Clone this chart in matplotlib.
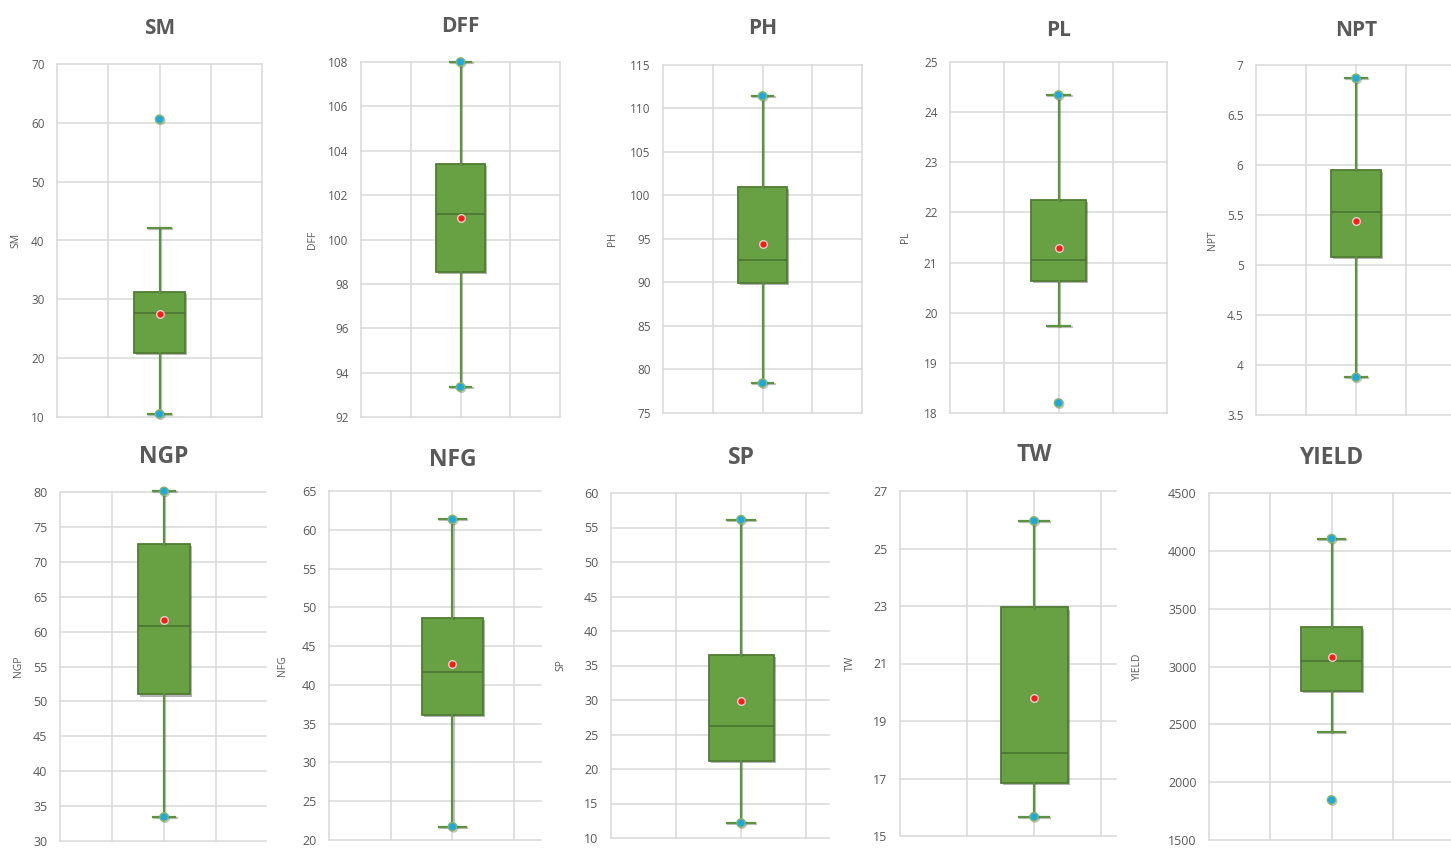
import matplotlib
matplotlib.use('Agg')
import matplotlib.pyplot as plt
import matplotlib.patheffects as pe
import matplotlib.transforms as mtransforms
from matplotlib.ticker import FuncFormatter
import numpy as np

plt.rcParams['font.family'] = ['Open Sans', 'DejaVu Sans']

# Box plot summaries
names = ['SM', 'DFF', 'PH', 'PL', 'NPT', 'NGP', 'NFG', 'SP', 'TW', 'YIELD']
q1 = [20.9, 98.54, 89.9, 20.64, 5.083, 51.0, 36.07, 21.2, 16.86, 2791]
median = [27.6, 101.16, 92.6, 21.05, 5.533, 60.75, 41.66, 26.18, 17.88, 3047]
q3 = [31.2, 103.4, 100.95, 22.25, 5.95, 72.5, 48.58, 36.5, 22.95, 3339]
mean = [27.5, 100.98, 94.4, 21.30, 5.437, 61.66, 42.73, 29.9, 19.81, 3081]
whisker_lo = [10.5, 93.35, 78.44, 19.74, 3.877, 33.44, 21.72, 12.17, 15.67, 2437]
whisker_hi = [42.2, 108.0, 111.44, 24.34, 6.867, 80.1, 61.34, 56.14, 25.96, 4106]
point_max = [60.6, 108.0, 111.44, 24.34, 6.867, 80.1, 61.34, 56.14, 25.96, 4106]
point_min = [10.5, 93.35, 78.44, 18.2, 3.877, 33.44, 21.72, 12.17, 15.67, 1846]

# y axis ranges (min, max, step)
y_min = [10, 92, 75, 18, 3.5, 30, 20, 10, 15, 1500]
y_max = [70, 108, 115, 25, 7, 80, 65, 60, 27, 4500]
y_step = [10, 2, 5, 1, 0.5, 5, 5, 5, 2, 500]

# panel layout in pixels: left, top, bottom, column width, visible columns, ylabel x, title y
layout = [
    (57, 64, 417, 51.25, 4.0, 16, 29),
    (361, 62, 417, 49.75, 4.0, 312, 27),
    (663, 65, 413, 49.75, 4.0, 613, 29),
    (950, 62, 413, 54.25, 4.0, 905, 31),
    (1256, 65, 415, 50.0, 4.0, 1212, 30),
    (60, 492, 841, 52.0, 3.96, 18, 457),
    (329, 491, 840, 61.7, 3.44, 282, 460),
    (611, 493, 838, 65.0, 3.35, 561, 458),
    (900, 491, 836, 67.0, 3.23, 850, 455),
    (1209, 493, 840, 61.25, 4.0, 1137, 458),
]

W, H = 1451, 848
fig = plt.figure(figsize=(W / 100, H / 100), dpi=100)

text_col = '#595959'
grid_col = '#d9d9d9'
box_fill = '#68a044'
box_edge = '#4f7d31'
line_col = '#5e9240'

for i, name in enumerate(names):
    left, top, bottom, colw, ncols, ylx, ty = layout[i]
    width = colw * ncols
    ax = fig.add_axes([left / W, (H - bottom) / H, width / W, (bottom - top) / H])
    ax.set_xlim(0, ncols)
    ax.set_ylim(y_min[i], y_max[i])

    stats = [dict(med=median[i], q1=q1[i], q3=q3[i], whislo=whisker_lo[i],
                  whishi=whisker_hi[i], mean=mean[i],
                  fliers=[point_max[i], point_min[i]])]
    shadow = [pe.SimpleLineShadow(offset=(0.8, -0.8), shadow_color='#555555', alpha=0.35), pe.Normal()]
    art = ax.bxp(stats, positions=[2], widths=1.0, capwidths=0.44, patch_artist=True,
                 showmeans=True,
                 boxprops=dict(facecolor=box_fill, edgecolor=box_edge, linewidth=1.3),
                 medianprops=dict(color='#4a7530', linewidth=1.2),
                 whiskerprops=dict(color=line_col, linewidth=1.6),
                 capprops=dict(color=line_col, linewidth=1.6),
                 flierprops=dict(marker='o', markerfacecolor='#1ca9e0',
                                 markeredgecolor='#86b66a', markeredgewidth=1.0, markersize=6),
                 meanprops=dict(marker='o', markerfacecolor='#ff1a1a',
                                markeredgecolor='#e9cfc9', markeredgewidth=1.0, markersize=5.5))
    for b in art['boxes']:
        b.set_path_effects([pe.SimplePatchShadow(offset=(1.5, -1.5), shadow_rgbFace='#444444', alpha=0.4),
                            pe.Normal()])
    for ln in art['whiskers'] + art['caps'] + art['fliers']:
        ln.set_path_effects(shadow)
        ln.set_clip_on(False)

    yt = np.arange(y_min[i], y_max[i] + y_step[i] / 2, y_step[i])
    ax.set_yticks(yt)
    ax.set_xticks(np.arange(0, int(ncols) + 1))
    ax.set_xticklabels([])
    ax.yaxis.set_major_formatter(FuncFormatter(lambda v, p: f'{v:g}'))
    ax.tick_params(axis='both', length=0, colors=text_col)
    ax.tick_params(axis='y', pad=9, labelsize=8.5 if i < 5 else 9)
    ax.grid(True, color=grid_col, linewidth=1.1, clip_on=False)
    ax.set_axisbelow(True)
    for s in ax.spines.values():
        s.set_visible(False)

    ax.text((ylx - left) / width, 0.5, name, transform=ax.transAxes, rotation=90,
            ha='center', va='center', fontsize=7.5, color=text_col)
    trans = mtransforms.blended_transform_factory(ax.transData, ax.transAxes)
    ax.text(2, 1 + (top - ty) / (bottom - top), name, transform=trans,
            ha='center', va='center', fontsize=15 if i < 5 else 16.5,
            fontweight='bold', color=text_col)

fig.savefig('out.png', dpi=100)
